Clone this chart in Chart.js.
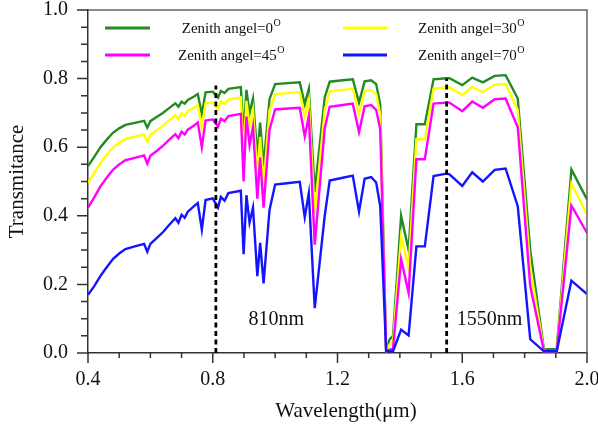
<!DOCTYPE html>
<html>
<head>
<meta charset="utf-8">
<script src="https://cdn.jsdelivr.net/npm/chart.js@4.4.1/dist/chart.umd.min.js"></script>
<style>
  html, body { margin: 0; padding: 0; background: #fff; }
  #wrap { width: 598px; height: 425px; position: relative; }
</style>
</head>
<body>
<div id="wrap"><canvas id="spectrum"></canvas></div>
<script>
// wavelength grid in um, shared by all four curves
const wavelength = [
  0.40, 0.42, 0.44, 0.46, 0.48, 0.50, 0.52, 0.55, 0.58, 0.59,
  0.60, 0.62, 0.64, 0.66, 0.68, 0.69, 0.70, 0.71, 0.72, 0.74,
  0.752, 0.765, 0.777, 0.80, 0.817, 0.826, 0.838, 0.85, 0.89, 0.899,
  0.908, 0.918, 0.929, 0.943, 0.952, 0.963, 0.982, 1.00, 1.03, 1.079,
  1.095, 1.108, 1.127, 1.159, 1.175, 1.217, 1.249, 1.269, 1.287, 1.308,
  1.324, 1.337, 1.356, 1.367, 1.378, 1.404, 1.428, 1.453, 1.480, 1.508,
  1.549, 1.559, 1.600, 1.632, 1.666, 1.704, 1.739, 1.778, 1.818, 1.862,
  1.903, 1.950, 2.000
];

const angles = [0, 30, 45, 70];

const zenith0 = [
  0.545, 0.572, 0.600, 0.622, 0.642, 0.655, 0.665, 0.671, 0.677, 0.657,
  0.676, 0.688, 0.700, 0.714, 0.728, 0.718, 0.733, 0.727, 0.738, 0.748,
  0.755, 0.696, 0.760, 0.762, 0.745, 0.764, 0.758, 0.770, 0.775, 0.640,
  0.767, 0.700, 0.742, 0.574, 0.672, 0.545, 0.740, 0.784, 0.786, 0.789,
  0.725, 0.770, 0.470, 0.745, 0.791, 0.795, 0.798, 0.730, 0.792, 0.795,
  0.784, 0.725, 0.005, 0.040, 0.050, 0.400, 0.300, 0.667, 0.667, 0.798,
  0.801, 0.801, 0.781, 0.803, 0.789, 0.808, 0.810, 0.742, 0.300, 0.010,
  0.012, 0.535, 0.448
];

const zenith30 = [
  0.496, 0.525, 0.554, 0.578, 0.599, 0.613, 0.624, 0.631, 0.637, 0.616,
  0.636, 0.649, 0.662, 0.678, 0.693, 0.682, 0.699, 0.692, 0.704, 0.715,
  0.723, 0.658, 0.728, 0.730, 0.712, 0.733, 0.726, 0.739, 0.745, 0.580,
  0.735, 0.660, 0.708, 0.520, 0.630, 0.490, 0.706, 0.755, 0.757, 0.761,
  0.690, 0.739, 0.405, 0.708, 0.763, 0.767, 0.771, 0.695, 0.764, 0.767,
  0.755, 0.695, 0.005, 0.025, 0.030, 0.341, 0.248, 0.623, 0.623, 0.771,
  0.774, 0.774, 0.752, 0.776, 0.761, 0.782, 0.784, 0.708, 0.250, 0.005,
  0.005, 0.494, 0.404
];

const zenith45 = [
  0.424, 0.454, 0.486, 0.511, 0.534, 0.550, 0.562, 0.569, 0.576, 0.552,
  0.575, 0.589, 0.604, 0.621, 0.638, 0.626, 0.645, 0.637, 0.651, 0.663,
  0.672, 0.600, 0.678, 0.681, 0.660, 0.683, 0.676, 0.691, 0.697, 0.500,
  0.689, 0.606, 0.660, 0.450, 0.570, 0.424, 0.650, 0.710, 0.712, 0.715,
  0.632, 0.691, 0.316, 0.655, 0.718, 0.723, 0.727, 0.644, 0.719, 0.723,
  0.709, 0.652, 0.005, 0.010, 0.012, 0.273, 0.175, 0.565, 0.565, 0.727,
  0.730, 0.730, 0.705, 0.733, 0.715, 0.740, 0.742, 0.658, 0.195, 0.005,
  0.005, 0.430, 0.350
];

const zenith70 = [
  0.170, 0.195, 0.225, 0.250, 0.274, 0.290, 0.303, 0.311, 0.318, 0.295,
  0.318, 0.335, 0.352, 0.373, 0.393, 0.380, 0.403, 0.394, 0.412, 0.428,
  0.437, 0.360, 0.446, 0.451, 0.424, 0.455, 0.444, 0.466, 0.473, 0.288,
  0.460, 0.380, 0.424, 0.224, 0.321, 0.203, 0.417, 0.491, 0.494, 0.499,
  0.396, 0.466, 0.131, 0.400, 0.503, 0.511, 0.517, 0.412, 0.508, 0.513,
  0.497, 0.428, 0.005, 0.005, 0.005, 0.068, 0.051, 0.311, 0.311, 0.516,
  0.523, 0.521, 0.487, 0.527, 0.500, 0.534, 0.538, 0.428, 0.040, 0.005,
  0.005, 0.211, 0.172
];

// marked wavelengths (nm) and how high their dashed guides reach
const markerNm = [810, 1550];
const markerTop = [0.78, 0.80];

const seriesValues = [zenith0, zenith30, zenith45, zenith70];
const seriesColors = ['#228b22', '#ffff00', '#ff00ff', '#1414ff'];

const serif = '"Liberation Serif", "Times New Roman", serif';
Chart.defaults.font.family = serif;
Chart.defaults.color = '#111';

function points(ys) {
  return wavelength.map((w, i) => ({ x: w, y: ys[i] }));
}

const datasets = seriesValues.map((ys, i) => ({
  label: 'Zenith angel=' + angles[i],
  data: points(ys),
  borderColor: seriesColors[i],
  borderWidth: 2.4,
  pointRadius: 0,
  tension: 0,
  fill: false,
  order: 4 - i
}));

markerNm.forEach((nm, i) => {
  datasets.push({
    label: nm + 'nm',
    data: [{ x: nm / 1000, y: 0 }, { x: nm / 1000, y: markerTop[i] }],
    borderColor: '#000',
    borderWidth: 2.8,
    borderDash: [5, 3.5],
    pointRadius: 0,
    order: 0
  });
});

function isMultiple(v, step) {
  return Math.abs(v / step - Math.round(v / step)) < 1e-6;
}

// ticks, frame, legend, axis title and marker captions
const decorations = {
  id: 'decorations',
  afterDraw(chart) {
    const ctx = chart.ctx;
    const area = chart.chartArea;
    const xs = chart.scales.x, ys = chart.scales.y;
    ctx.save();

    // top and right frame
    ctx.strokeStyle = '#666';
    ctx.lineWidth = 1.5;
    ctx.beginPath();
    ctx.moveTo(area.left, area.top);
    ctx.lineTo(area.right, area.top);
    ctx.lineTo(area.right, area.bottom);
    ctx.stroke();

    // outward tick marks, long on labelled values
    ctx.strokeStyle = '#333';
    ctx.lineWidth = 1.5;
    ctx.beginPath();
    xs.ticks.forEach(t => {
      const px = xs.getPixelForValue(t.value);
      const len = isMultiple(t.value, 0.4) ? 10 : 5;
      ctx.moveTo(px, area.bottom);
      ctx.lineTo(px, area.bottom + len);
    });
    ys.ticks.forEach(t => {
      const py = ys.getPixelForValue(t.value);
      const len = isMultiple(t.value, 0.2) ? 11 : 7;
      ctx.moveTo(area.left, py);
      ctx.lineTo(area.left - len, py);
    });
    ctx.stroke();

    // x axis title
    ctx.fillStyle = '#111';
    ctx.font = '21px ' + serif;
    ctx.textAlign = 'center';
    ctx.textBaseline = 'middle';
    ctx.fillText('Wavelength(\u03bcm)', 346, 411);

    // captions next to the dashed guides
    ctx.font = '20px ' + serif;
    ctx.textAlign = 'left';
    const captionX = [0.915, 1.582];
    markerNm.forEach((nm, i) => {
      ctx.fillText(nm + 'nm', xs.getPixelForValue(captionX[i]), ys.getPixelForValue(0.097));
    });

    // legend: two columns, two rows
    const slots = [
      { x0: 105, x1: 150, tx: 231, y: 28 },
      { x0: 343, x1: 387, tx: 471, y: 28 },
      { x0: 105, x1: 150, tx: 231, y: 55 },
      { x0: 343, x1: 387, tx: 471, y: 55 }
    ];
    slots.forEach((s, i) => {
      ctx.strokeStyle = seriesColors[i];
      ctx.lineWidth = 3;
      ctx.beginPath();
      ctx.moveTo(s.x0, s.y);
      ctx.lineTo(s.x1, s.y);
      ctx.stroke();

      const main = 'Zenith angel=' + angles[i];
      ctx.font = '15px ' + serif;
      const wMain = ctx.measureText(main).width;
      ctx.font = '10px ' + serif;
      const wSup = ctx.measureText('O').width;
      const left = s.tx - (wMain + wSup) / 2;
      ctx.fillStyle = '#111';
      ctx.textAlign = 'left';
      ctx.textBaseline = 'alphabetic';
      ctx.font = '15px ' + serif;
      ctx.fillText(main, left, s.y + 5);
      ctx.font = '10px ' + serif;
      ctx.fillText('O', left + wMain + 0.5, s.y - 2);
    });

    ctx.restore();
  }
};

new Chart(document.getElementById('spectrum'), {
  type: 'line',
  data: { datasets: datasets },
  options: {
    responsive: true,
    maintainAspectRatio: false,
    animation: false,
    layout: { padding: { top: 10, right: 11, left: 0, bottom: 0 } },
    plugins: {
      legend: { display: false },
      tooltip: { enabled: false }
    },
    elements: { line: { borderCapStyle: 'butt', borderJoinStyle: 'miter' } },
    scales: {
      x: {
        type: 'linear',
        min: 0.4,
        max: 2.0,
        afterFit(scale) {
          scale.height = 72;
          scale.paddingLeft = 0;
          scale.paddingRight = 0;
        },
        grid: { display: false, drawTicks: false },
        border: { display: true, color: '#333', width: 1.5 },
        ticks: {
          stepSize: 0.1,
          autoSkip: false,
          maxRotation: 0,
          padding: 15,
          font: { size: 20 },
          color: '#111',
          callback: v => isMultiple(v, 0.4) ? v.toFixed(1) : ''
        }
      },
      y: {
        min: 0,
        max: 1.0,
        afterFit(scale) {
          scale.width = 88;
          scale.paddingTop = 0;
          scale.paddingBottom = 0;
        },
        grid: { display: false, drawTicks: false },
        border: { display: true, color: '#333', width: 1.5 },
        title: {
          display: true,
          text: 'Transmitance',
          font: { size: 21 },
          color: '#111',
          padding: { top: 5, bottom: 0 }
        },
        ticks: {
          stepSize: 0.05,
          autoSkip: false,
          padding: 20,
          font: { size: 20 },
          color: '#111',
          callback: v => isMultiple(v, 0.2) ? v.toFixed(1) : ''
        }
      }
    }
  },
  plugins: [decorations]
});
</script>
</body>
</html>
